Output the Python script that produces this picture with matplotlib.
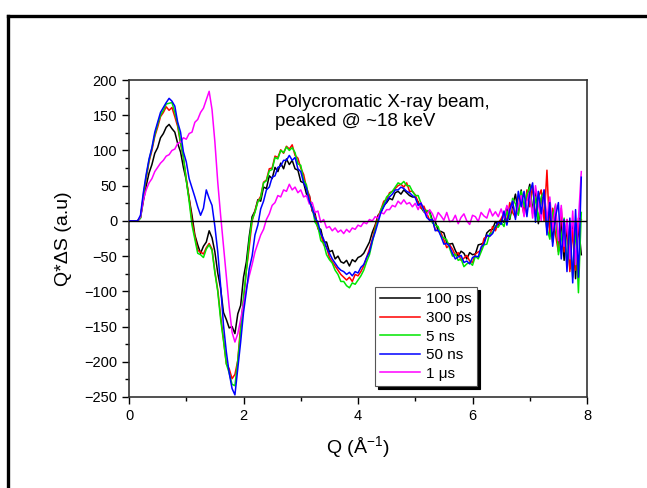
import numpy as np
import matplotlib
matplotlib.use("Agg")
from matplotlib import pyplot as plt
from matplotlib.lines import Line2D

plt.rcParams["font.family"] = ["Liberation Sans", "DejaVu Sans"]
plt.rcParams["mathtext.fontset"] = "custom"
plt.rcParams["mathtext.rm"] = "Liberation Sans"

# Q grid step (1/Angstrom); every series below starts at Q = 0
dq = 0.05

k_100ps = [0, 0, 0, 0, 4, 28, 50, 68, 80, 96,
           104, 118, 124, 133, 137, 131, 126, 110, 98, 76,
           58, 32, 8, -20, -34, -46, -36, -30, -14, -24,
           -44, -74, -96, -130, -140, -152, -150, -160, -132, -120,
           -80, -58, -22, 6, 14, 30, 28, 48, 46, 64,
           60, 76, 70, 82, 74, 88, 80, 86, 74, 72,
           56, 54, 38, 36, 14, 10, -10, -12, -30, -30,
           -44, -42, -54, -50, -58, -60, -56, -64, -55, -58,
           -52, -50, -46, -38, -30, -16, -6, 8, 12, 22,
           26, 32, 30, 40, 42, 38, 44, 40, 36, 34,
           34, 27, 19, 13, 14, 14, 0, -1, -14, -15,
           -17, -31, -33, -32, -42, -50, -43, -46, -54, -45,
           -48, -47, -34, -33, -31, -17, -13, -12, -1, -6,
           2, -2, 20, 2, 22, 38, 10, 44, 10, 34,
           52, 14, 42, -4, 32, 34, -14, 14, -30, 14,
           -36, -2, -56, -6, -68, 0, -82, -4, -48]

r_300ps = [0, 0, 0, 0, 5, 33, 60, 84, 100, 120,
           133, 148, 154, 162, 157, 161, 148, 134, 110, 90,
           60, 32, 0, -22, -42, -44, -47, -38, -32, -40,
           -72, -98, -135, -168, -203, -210, -224, -218, -198, -148,
           -114, -70, -37, 0, 14, 28, 35, 55, 58, 74,
           75, 92, 90, 101, 96, 106, 102, 108, 93, 89,
           75, 66, 47, 36, 15, 7, -11, -18, -34, -37,
           -52, -58, -64, -70, -76, -80, -84, -80, -86, -76,
           -78, -72, -64, -52, -40, -26, -8, 6, 16, 28,
           30, 40, 42, 46, 50, 52, 48, 54, 42, 42,
           37, 26, 18, 21, 11, 1, 2, -13, -14, -17,
           -27, -38, -34, -40, -49, -45, -56, -53, -49, -57,
           -59, -47, -44, -42, -25, -22, -21, -8, -14, -3,
           3, 12, -2, 26, 12, 5, 34, 30, 8, 44,
           20, 50, 6, 34, 44, 0, 72, -22, 18, -20,
           -44, 18, -44, 2, -72, -12, -70, 4, 2]

g_5ns = [0, 0, 0, 0, 4, 36, 63, 86, 103, 122,
         137, 150, 157, 166, 167, 168, 154, 138, 112, 90,
         58, 28, -6, -26, -46, -48, -52, -40, -34, -42,
         -74, -100, -140, -170, -203, -216, -232, -234, -198, -157,
         -108, -70, -28, 2, 12, 27, 33, 54, 57, 71,
         73, 90, 88, 100, 97, 105, 100, 104, 97, 81,
         79, 58, 51, 28, 19, -2, -8, -28, -32, -48,
         -55, -60, -70, -76, -86, -86, -92, -95, -88, -90,
         -84, -78, -70, -58, -48, -30, -12, 2, 16, 24,
         34, 38, 42, 48, 54, 52, 56, 50, 50, 42,
         36, 36, 25, 13, 15, 12, -3, -6, -8, -22,
         -24, -27, -39, -50, -47, -56, -54, -65, -61, -59,
         -63, -50, -54, -44, -34, -33, -18, -17, -7, -9,
         -2, -8, 14, 4, 32, 24, 8, 42, 20, 38,
         48, 10, 34, 0, 34, 42, -10, -26, 10, 22,
         -48, -26, 4, -64, -18, -80, -8, -102, 12]

b_50ns = [0, 0, 0, 0, 8, 40, 66, 88, 104, 126,
          140, 154, 161, 168, 174, 170, 163, 140, 126, 98,
          84, 60, 47, 34, 20, 8, 18, 44, 32, 22,
          -8, -44, -92, -148, -186, -216, -238, -247, -210, -172,
          -130, -100, -68, -50, -20, -6, 17, 28, 44, 48,
          62, 64, 76, 78, 86, 86, 93, 86, 90, 74,
          70, 54, 46, 28, 18, 4, -2, -18, -26, -38,
          -46, -54, -60, -66, -70, -72, -76, -73, -78, -72,
          -74, -66, -62, -52, -44, -28, -16, -2, 12, 20,
          28, 34, 38, 44, 44, 48, 46, 42, 40, 36,
          33, 22, 25, 16, 5, 1, 2, -14, -13, -22,
          -33, -32, -36, -46, -54, -51, -49, -59, -57, -61,
          -52, -50, -51, -37, -33, -20, -22, -18, -9, -1,
          -5, 14, -6, 16, 28, 2, 42, 20, 42, 6,
          40, 54, -2, 42, 10, 44, -20, 26, -36, 6,
          26, -54, 2, -72, 4, -88, 16, -80, 62]

m_1us = [0, 0, 0, 0, 6, 30, 44, 54, 60, 70,
         76, 82, 86, 92, 94, 100, 102, 110, 112, 118,
         116, 124, 126, 140, 144, 154, 160, 172, 184, 158,
         112, 55, 8, -35, -78, -122, -158, -172, -160, -140,
         -118, -96, -78, -62, -44, -32, -20, -12, 2, 10,
         22, 26, 36, 34, 44, 42, 52, 44, 48, 40,
         44, 34, 36, 24, 26, 12, 14, -2, 2, -10,
         -8, -14, -10, -16, -13, -18, -12, -16, -10, -12,
         -6, -8, -2, -4, 2, 0, 6, 4, 12, 10,
         16, 16, 22, 20, 28, 24, 30, 24, 26, 20,
         25, 16, 26, 14, 8, 16, 10, 0, 12, 7,
         1, 12, -1, 0, 8, -4, 5, 10, 0, -5,
         8, 6, -1, 12, 7, 4, 17, 7, 13, 6,
         17, 4, 22, 10, 28, 6, 22, 36, 6, 28,
         42, 4, 50, 24, 0, 44, 2, 34, -14, 24,
         -28, 22, -36, 2, -54, 14, -62, 2, 70]

series = [
    (k_100ps, "black", "100 ps"),
    (r_300ps, "#ff0000", "300 ps"),
    (g_5ns, "#00e600", "5 ns"),
    (b_50ns, "#0000ff", "50 ns"),
    (m_1us, "#ff00ff", "1 \u03bcs"),
]

fig = plt.figure(figsize=(6.47, 4.88), dpi=100)
ax = fig.add_axes([0.1994, 0.1865, 0.7079, 0.6495])

handles = []
for vals, color, label in series:
    q = np.arange(len(vals)) * dq
    h, = ax.plot(q, vals, color=color, lw=1.1, label=label)
    handles.append(h)

# blue on top of the rest
handles[3].set_zorder(3)

ax.axhline(0, color="black", lw=1.0, zorder=4)

ax.set_xlim(0, 8)
ax.set_ylim(-250, 200)
ax.set_xticks([0, 2, 4, 6, 8])
ax.set_xticks([1, 3, 5, 7], minor=True)
ax.set_yticks(np.arange(-250, 201, 50))
ax.set_yticks(np.arange(-225, 200, 50), minor=True)
ax.tick_params(which="major", direction="out", length=5, width=1.0,
               labelsize=10.5, top=False, right=False)
ax.tick_params(which="minor", direction="out", length=3, width=1.0,
               top=False, right=False)
for side in ["left", "bottom", "top", "right"]:
    ax.spines[side].set_color("#333333")
    ax.spines[side].set_linewidth(1.2)

ax.set_xlabel("Q (\u00c5$^{-1}$)", fontsize=14, labelpad=8)
ax.set_ylabel("Q*\u0394S (a.u)", fontsize=14, labelpad=9)

ax.text(0.319, 0.955, "Polycromatic X-ray beam,\npeaked @ ~18 keV",
        transform=ax.transAxes, fontsize=13.5, va="top", ha="left",
        linespacing=1.15)

leg = ax.legend(handles=handles, loc="upper left",
                bbox_to_anchor=(0.537, 0.347), borderaxespad=0,
                fontsize=11, handlelength=2.6, handletextpad=0.4,
                labelspacing=0.3, borderpad=0.35, fancybox=False,
                framealpha=1, edgecolor="#555555",
                shadow={"color": "black", "alpha": 1.0})
leg.get_frame().set_linewidth(0.8)

# thick frame along the top and left edges of the page
fig.add_artist(Line2D([0.0125, 1.0], [0.967, 0.967], color="black", lw=2.4,
                      transform=fig.transFigure))
fig.add_artist(Line2D([0.0125, 0.0125], [0.0, 0.967], color="black", lw=2.4,
                      transform=fig.transFigure))

fig.savefig("out.png", dpi=100)
